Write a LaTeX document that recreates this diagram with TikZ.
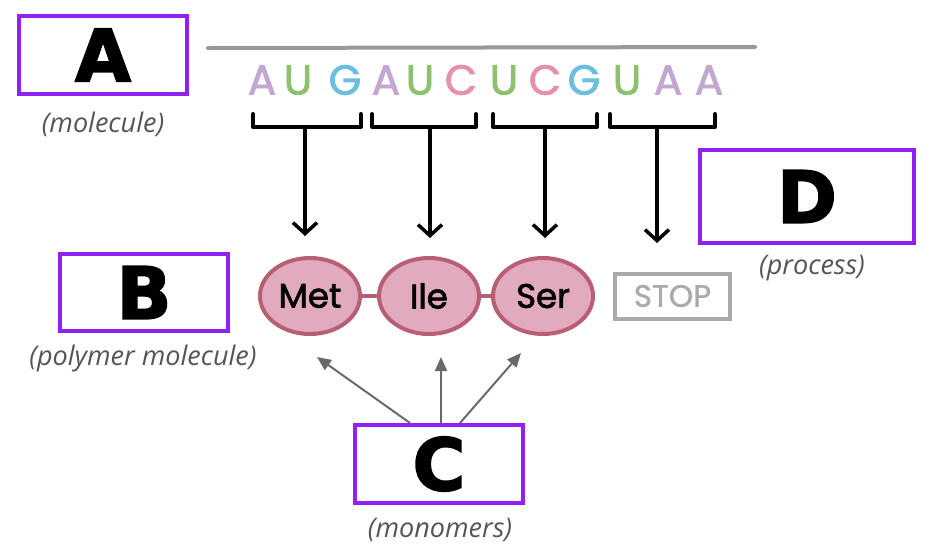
\documentclass[tikz,border=0pt]{standalone}
\usepackage{fontspec}
\setmainfont{Open Sans}
\newfontfamily\bigfont{DejaVu Sans}[BoldFont={DejaVu Sans Bold},BoldFeatures={FakeBold=2.5}]
\newfontfamily\popfont{Poppins}[FakeBold=2]
\newfontfamily\stopfont{Poppins}[FakeBold=1]
\newfontfamily\handfont{Poppins}[FakeBold=2]
\usetikzlibrary{shapes.geometric,arrows.meta}
\definecolor{boxpurple}{RGB}{145,33,242}
\definecolor{nucA}{RGB}{196,166,210}
\definecolor{nucU}{RGB}{141,194,108}
\definecolor{nucG}{RGB}{106,190,222}
\definecolor{nucC}{RGB}{230,145,170}
\definecolor{aafill}{RGB}{226,170,190}
\definecolor{aadraw}{RGB}{184,95,115}
\definecolor{labgray}{RGB}{85,85,85}
\definecolor{stopgray}{RGB}{170,170,170}
\definecolor{arrgray}{RGB}{105,105,105}
\tikzset{
  letterbox/.style={draw=boxpurple,line width=4pt,fill=white,rectangle,inner sep=0pt,
    font=\bigfont\bfseries\fontsize{72}{72}\selectfont},
  caption/.style={text=labgray,font=\itshape\fontsize{27}{29}\selectfont,inner sep=0pt},
  nuc/.style={font=\popfont\fontsize{42}{42}\selectfont,inner sep=0pt},
  aa/.style={ellipse,draw=aadraw,fill=aafill,line width=4pt,minimum width=100pt,minimum height=76pt,
    inner sep=0pt,text=black,font=\handfont\fontsize{34}{34}\selectfont},
  bracket/.style={line width=4pt,line cap=round,line join=round},
  blackarrow/.style={line width=3.5pt,line cap=round,-{Straight Barb[length=11pt,width=24pt,line width=3.5pt]}},
  grayarrow/.style={line width=2pt,draw=arrgray,-{Triangle[length=14pt,width=12pt]},fill=arrgray}
}
\begin{document}
\begin{tikzpicture}[x=1pt,y=-1pt]
\useasboundingbox (0,0) rectangle (930,558);
% boxes
\node[letterbox,minimum width=168pt,minimum height=78pt] (A) at (103,55) {A};
\node[letterbox,minimum width=168pt,minimum height=77pt] (B) at (144,292.5) {B};
\node[letterbox,minimum width=168pt,minimum height=78pt] (C) at (439,464) {C};
\node[letterbox,minimum width=214pt,minimum height=93pt] (D) at (807,196.5) {D};
\node[caption] (la) at (103,124) {(molecule)};
\node[caption] (lb) at (143,358) {(polymer molecule)};
\node[caption] (lc) at (440,530) {(monomers)};
\node[caption] (ld) at (812,268) {(process)};
% mRNA line
\coordinate (l1) at (208,48);
\coordinate (l2) at (755,47);
\draw[line width=4pt,draw=stopgray!90!black,line cap=round] (l1) -- (l2);
% nucleotides
\node[nuc,text=nucA] (n1) at (262,80) {A};
\node[nuc,text=nucU] (n2) at (298,80) {U};
\node[nuc,text=nucG] (n3) at (345,80) {G};
\node[nuc,text=nucA] (n4) at (386,80) {A};
\node[nuc,text=nucU] (n5) at (420,80) {U};
\node[nuc,text=nucC] (n6) at (461,80) {C};
\node[nuc,text=nucU] (n7) at (504,80) {U};
\node[nuc,text=nucC] (n8) at (545,80) {C};
\node[nuc,text=nucG] (n9) at (584,80) {G};
\node[nuc,text=nucU] (n10) at (627,80) {U};
\node[nuc,text=nucA] (n11) at (668,80) {A};
\node[nuc,text=nucA] (n12) at (709,80) {A};
% brackets
\draw[bracket] (253,114) -- (253,127) -- (361,127) -- (361,114);
\draw[bracket] (372,114) -- (372,127) -- (476,127) -- (476,114);
\draw[bracket] (493,114) -- (493,127) -- (597,127) -- (597,114);
\draw[bracket] (610,114) -- (610,127) -- (715,127) -- (715,114);
\coordinate (b1) at (305,127);
\coordinate (b2) at (430,127);
\coordinate (b3) at (545,127);
\coordinate (b4) at (657,127);
\coordinate (t1) at (305,236);
\coordinate (t2) at (430,238);
\coordinate (t3) at (545,238);
\coordinate (t4) at (657,243);
\draw[blackarrow] (b1) -- (t1);
\draw[blackarrow] (b2) -- (t2);
\draw[blackarrow] (b3) -- (t3);
\draw[blackarrow] (b4) -- (t4);
% amino acids
\node[aa] (met) at (310,296) {Met};
\node[aa] (ile) at (429,296) {Ile};
\node[aa] (ser) at (543,296) {Ser};
\draw[line width=4pt,draw=aadraw] (met.east) -- (ile.west);
\draw[line width=4pt,draw=aadraw] (ile.east) -- (ser.west);
\node[draw=stopgray,line width=4pt,fill=white,minimum width=115pt,minimum height=45pt,inner sep=0pt,
  text=stopgray,font=\stopfont\fontsize{31}{31}\selectfont] (stop) at (672.5,296) {STOP};
% monomer arrows
\coordinate (m1) at (317,357);
\coordinate (m2) at (441,357);
\coordinate (m3) at (521,353);
\draw[grayarrow] ([xshift=-29pt]C.north) -- (m1);
\draw[grayarrow] ([xshift=2pt]C.north) -- (m2);
\draw[grayarrow] ([xshift=21pt]C.north) -- (m3);
\end{tikzpicture}
\end{document}
